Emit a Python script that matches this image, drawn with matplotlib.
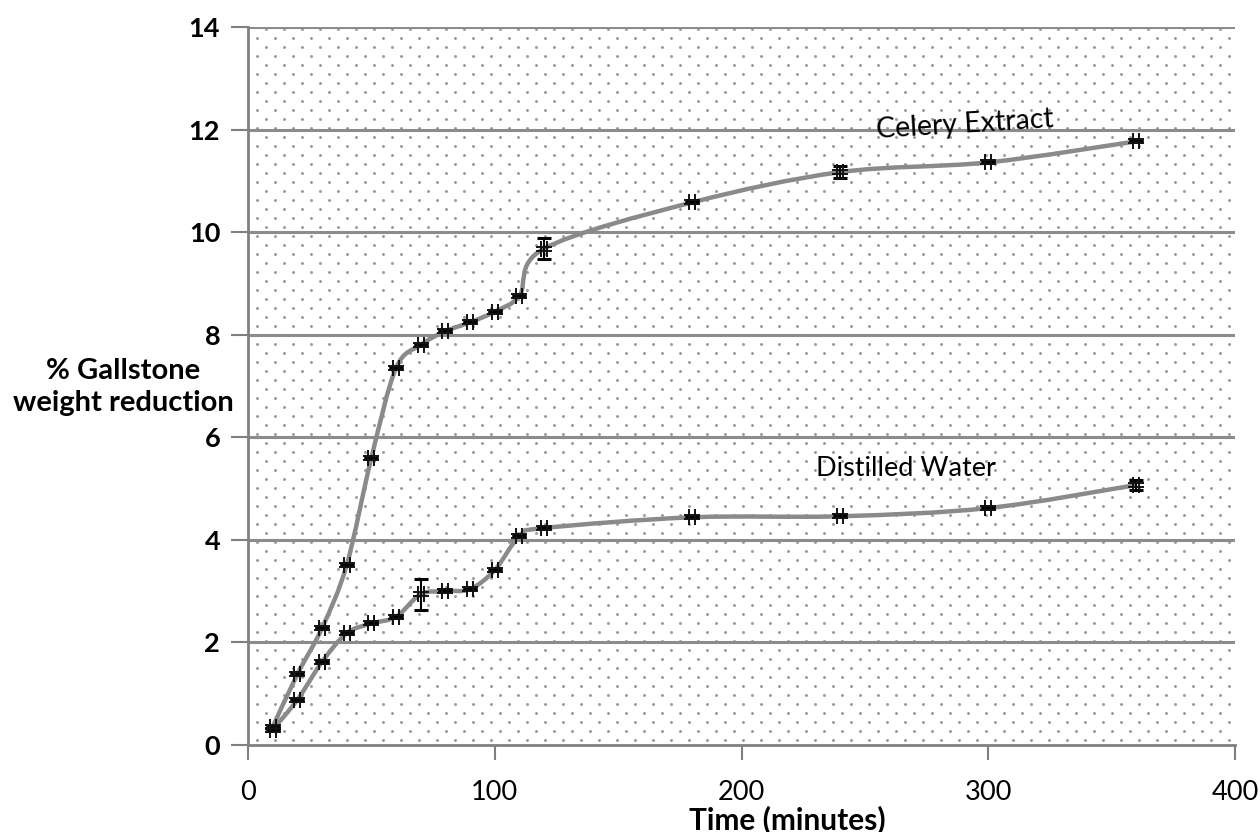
import numpy as np
import matplotlib.pyplot as plt
from matplotlib.path import Path
from matplotlib.patches import PathPatch

plt.rcParams["font.family"] = ["Lato", "DejaVu Sans"]

# data
time_min = [10, 20, 30, 40, 50, 60, 70, 80, 90, 100, 110, 120, 180, 240, 300, 360]
celery = [0.35, 1.38, 2.28, 3.51, 5.6, 7.35, 7.8, 8.07, 8.24, 8.45, 8.76, 9.68, 10.58, 11.17, 11.36, 11.77]
celery_err = [0, 0, 0, 0, 0, 0, 0, 0, 0, 0, 0, 0.2, 0, 0.12, 0, 0]
water = [0.3, 0.88, 1.62, 2.18, 2.37, 2.5, 2.94, 3.0, 3.04, 3.41, 4.07, 4.23, 4.44, 4.46, 4.62, 5.07]
water_err = [0, 0, 0, 0, 0, 0, 0.3, 0, 0, 0, 0, 0, 0, 0, 0, 0.1]

x_ticks = [0, 100, 200, 300, 400]
y_ticks = [0, 2, 4, 6, 8, 10, 12, 14]

LINE = "#8a8a8a"


def smooth_path(x, y):
    # Excel-style smoothed line: cubic bezier through the points
    pts = np.column_stack([x, y]).astype(float)
    verts = [pts[0]]
    codes = [Path.MOVETO]
    n = len(pts)
    for i in range(n - 1):
        p0 = pts[max(i - 1, 0)]
        p1 = pts[i]
        p2 = pts[i + 1]
        p3 = pts[min(i + 2, n - 1)]
        c1 = p1 + (p2 - p0) / 6.0
        c2 = p2 - (p3 - p1) / 6.0
        verts += [c1, c2, p2]
        codes += [Path.CURVE4] * 3
    return Path(verts, codes)


# marker looking like a little "#"
a, b = 0.16, 0.1
mark = Path(
    [(-a, -0.5), (-a, 0.5), (a, -0.5), (a, 0.5), (-0.5, -b), (0.5, -b), (-0.5, b), (0.5, b)],
    [Path.MOVETO, Path.LINETO] * 4,
)

fig = plt.figure(figsize=(12.6, 8.32), dpi=100)
ax = fig.add_axes([248 / 1260, 1 - 745 / 832, 987 / 1260, 718 / 832])

# dotted background
w, h = 987, 718
xs = np.arange(9, w, 18)
ys = np.arange(5, h, 9)
dx, dy = [], []
for k, yy in enumerate(ys):
    off = 0 if k % 2 == 0 else 9
    for xx in xs:
        if xx + off < w:
            dx.append((xx + off) / w)
            dy.append(yy / h)
ax.scatter(dx, dy, s=4.5, color="#9a9a9a", transform=ax.transAxes, zorder=0, linewidths=0)

for yv in y_ticks[1:]:
    ax.axhline(yv, color="#8c8c8c", lw=2.2, zorder=1)

for yv, err in ((celery, celery_err), (water, water_err)):
    ax.add_patch(PathPatch(smooth_path(time_min, yv), fill=False, ec=LINE, lw=3.2, zorder=2))
    ax.errorbar(time_min, yv, yerr=err, fmt="none", ecolor="black", elinewidth=1.5,
                capsize=5, capthick=2.2, zorder=3)
    ax.plot(time_min, yv, ls="none", marker=mark, ms=12, mec="#111111", mfc="none", mew=1.4, zorder=4)

ax.set_xlim(0, 400)
ax.set_ylim(0, 14)
ax.set_xticks(x_ticks)
ax.set_yticks(y_ticks)
ax.tick_params(axis="both", labelsize=19.5, color="#808080", width=1.5, length=11, pad=14)
ax.tick_params(axis="y", length=12, pad=8)
for lab in ax.get_yticklabels():
    lab.set_fontweight("bold")
for s in ["top", "right"]:
    ax.spines[s].set_visible(False)
for s in ["left", "bottom"]:
    ax.spines[s].set_color("#808080")
    ax.spines[s].set_linewidth(2)

ax.text(290.5, 12.1, "Celery Extract", fontsize=20.5, ha="center", va="center", rotation=3.5)
ax.text(266.5, 5.4, "Distilled Water", fontsize=19.5, ha="center", va="center")

fig.text(787 / 1260, 1 - 820 / 832, "Time (minutes)", fontsize=21.5, fontweight="bold",
         ha="center", va="center")
fig.text(123 / 1260, 1 - 387 / 832, "% Gallstone\nweight reduction", fontsize=21,
         fontweight="bold", ha="center", va="center", linespacing=1.25)

fig.savefig("out.png", dpi=100)
